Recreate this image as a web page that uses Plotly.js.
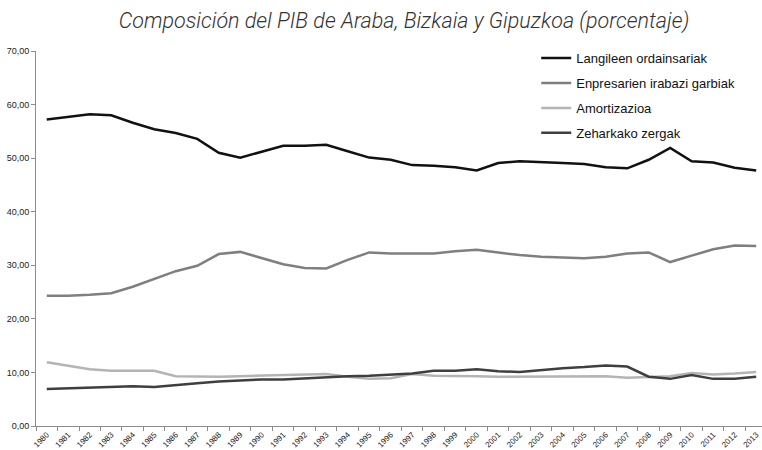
<!DOCTYPE html>
<html>
<head>
<meta charset="utf-8">
<script src="https://cdn.plot.ly/plotly-3.0.1.min.js"></script>
<style>
html,body{margin:0;padding:0;background:#fff;}
#chart{width:762px;height:450px;}
</style>
</head>
<body>
<div id="chart"></div>
<script>
var years = ["1980","1981","1982","1983","1984","1985","1986","1987","1988","1989","1990","1991","1992","1993","1994","1995","1996","1997","1998","1999","2000","2001","2002","2003","2004","2005","2006","2007","2008","2009","2010","2011","2012","2013"];

var seriesNames = ["Langileen ordainsariak","Enpresarien irabazi garbiak","Amortizazioa","Zeharkako zergak"];

var langileen = [57.2,57.7,58.2,58.0,56.6,55.4,54.7,53.6,51.0,50.1,51.2,52.3,52.3,52.5,51.3,50.1,49.7,48.7,48.6,48.3,47.7,49.1,49.4,49.3,49.1,48.9,48.3,48.1,49.7,51.9,49.4,49.2,48.2,47.7];

var enpresarien = [24.3,24.3,24.5,24.8,26.0,27.4,28.9,29.9,32.1,32.5,31.4,30.2,29.5,29.4,31.0,32.4,32.2,32.2,32.2,32.6,32.9,32.4,31.9,31.6,31.5,31.3,31.6,32.2,32.4,30.6,31.8,33.0,33.7,33.6];

var amortizazioa = [11.9,11.2,10.6,10.3,10.3,10.3,9.3,9.2,9.2,9.3,9.4,9.5,9.7,9.7,9.2,8.8,8.9,9.7,9.4,9.4,9.3,9.2,9.2,9.2,9.2,9.2,9.3,9.0,9.2,9.3,9.9,9.6,9.8,10.1];

var zeharkako = [6.9,7.0,7.2,7.3,7.4,7.3,7.7,8.0,8.3,8.5,8.7,8.7,8.9,9.2,9.3,9.4,9.6,9.8,10.3,10.3,10.6,10.2,10.1,10.5,10.8,11.0,11.3,11.1,9.2,8.8,9.5,8.8,8.8,9.2];

var yTickVals = [0,10,20,30,40,50,60,70];

var colors = ["#111111","#7f7f7f","#b4b4b4","#3f3f3f"];
var values = [langileen, enpresarien, amortizazioa, zeharkako];

var traces = values.map(function(v, i){
  return {
    type: "scatter",
    mode: "lines",
    x: years,
    y: v,
    name: seriesNames[i],
    legendgroup: "g" + i,
    line: {color: colors[i], width: 2.5},
    hoverinfo: "x+y+name"
  };
});

var layout = {
  width: 762,
  height: 450,
  paper_bgcolor: "#ffffff",
  plot_bgcolor: "#ffffff",
  separators: ",.",
  margin: {l: 36, r: 0, t: 51, b: 24, pad: 0},
  title: {
    text: "Composición del PIB de Araba, Bizkaia y Gipuzkoa (porcentaje)",
    font: {family: "Roboto, 'Open Sans', sans-serif", size: 21.5, color: "#333333", style: "italic", weight: 300},
    x: 404/762,
    xref: "container",
    xanchor: "center",
    y: 1 - 28/450,
    yref: "container",
    yanchor: "bottom"
  },
  showlegend: true,
  legend: {
    x: 0.689,
    xanchor: "left",
    y: 1.021,
    yanchor: "top",
    traceorder: "grouped",
    tracegroupgap: 5,
    font: {family: "'Liberation Sans', Arial, sans-serif", size: 13, color: "#111111"},
    bgcolor: "rgba(0,0,0,0)",
    borderwidth: 0,
    itemwidth: 30
  },
  xaxis: {
    type: "category",
    range: [-0.5, 33.27],
    showgrid: false,
    zeroline: false,
    showline: true,
    linecolor: "#8c8c8c",
    linewidth: 1,
    ticks: "outside",
    tickson: "boundaries",
    ticklen: 4,
    tickcolor: "#8c8c8c",
    tickangle: -45,
    tickfont: {family: "'Liberation Sans', Arial, sans-serif", size: 8, color: "#222222"},
    automargin: false,
    fixedrange: true
  },
  yaxis: {
    range: [0, 70],
    tickvals: yTickVals,
    tickformat: ".2f",
    showgrid: false,
    zeroline: false,
    showline: true,
    linecolor: "#8c8c8c",
    linewidth: 1,
    ticks: "outside",
    ticklen: 4,
    tickcolor: "#8c8c8c",
    tickfont: {family: "'Liberation Sans', Arial, sans-serif", size: 9, color: "#222222"},
    automargin: false,
    fixedrange: true
  }
};

Plotly.newPlot("chart", traces, layout, {displayModeBar: false, staticPlot: true});
</script>
</body>
</html>
